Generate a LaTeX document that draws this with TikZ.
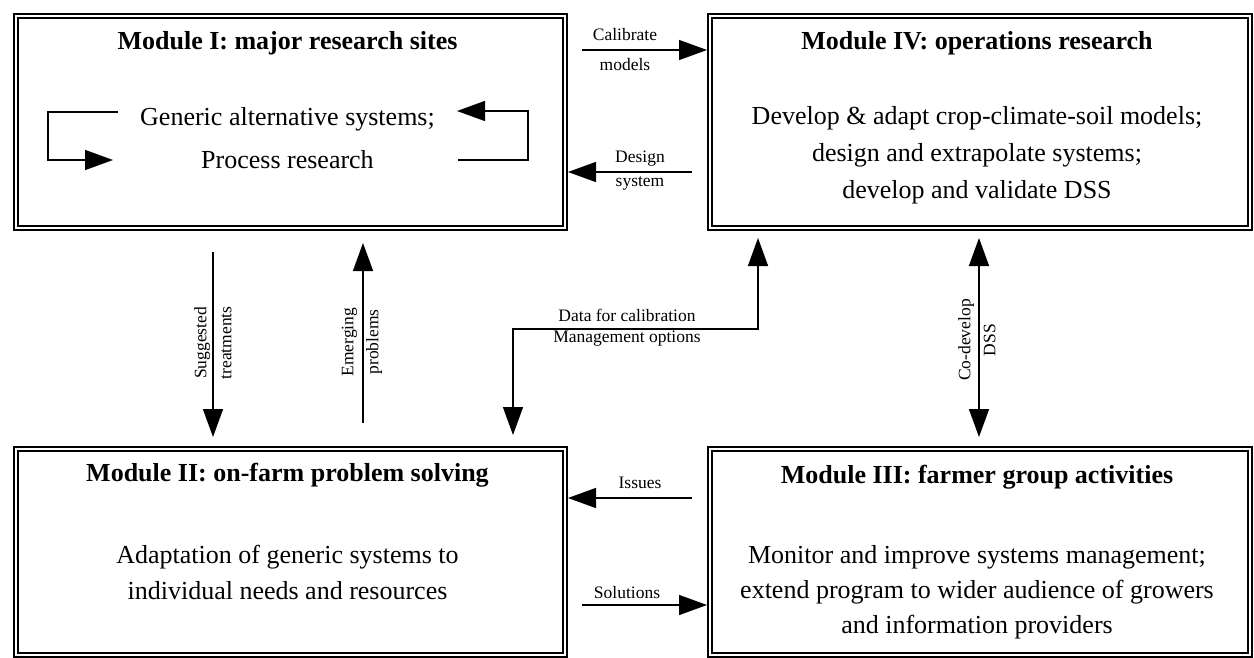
\documentclass[tikz,border=0pt]{standalone}
\usepackage{fontspec}
\setmainfont{Liberation Serif}
\usetikzlibrary{arrows.meta}
\begin{document}
\begin{tikzpicture}[x=1pt,y=-1pt,
  modbox/.style={draw, double, line width=2pt, double distance=2pt, inner sep=0pt, outer sep=3pt, anchor=north west},
  ttl/.style={font=\fontsize{26}{30}\selectfont\bfseries, inner sep=0pt},
  body/.style={font=\fontsize{26}{#1}\selectfont, align=center, inner sep=0pt},
  lbl/.style={font=\fontsize{17.5}{24}\selectfont, inner sep=0pt},
  rlbl/.style={font=\fontsize{17.5}{25}\selectfont, align=center, rotate=90, inner sep=0pt},
  conn/.style={line width=1.5pt},
  tip/.tip={Triangle[length=28pt,width=20pt]},
  ar/.style={conn, -tip},
  arr/.style={conn, tip-tip}]
\useasboundingbox (0,0) rectangle (1254,658);
% boxes
\node[modbox, minimum width=549, minimum height=212] (m1) at (13,13) {};
\node[modbox, minimum width=540, minimum height=212] (m4) at (707,13) {};
\node[modbox, minimum width=549, minimum height=206] (m2) at (13,446) {};
\node[modbox, minimum width=540, minimum height=206] (m3) at (707,446) {};
% titles
\node[ttl] (t1) at (287.5,43) {Module I: major research sites};
\node[ttl] (t4) at (977,43) {Module IV: operations research};
\node[ttl] (t2) at (287.5,475) {Module II: on-farm problem solving};
\node[ttl] (t3) at (977,477) {Module III: farmer group activities};
% bodies
\node[body=43] (b1) at (287.5,138) {Generic alternative systems;\\Process research};
\node[body=37] (b4) at (977,155) {Develop \& adapt crop-climate-soil models;\\design and extrapolate systems;\\develop and validate DSS};
\node[body=36] (b2) at (287.5,572) {Adaptation of generic systems to\\individual needs and resources};
\node[body=35] (b3) at (977,592) {Monitor and improve systems management;\\extend program to wider audience of growers\\and information providers};
% loops inside module I
\coordinate (la) at (118,112);
\coordinate (lb) at (48,112);
\coordinate (lc) at (48,160);
\coordinate (ld) at (113,160);
\draw[ar] (la) -- (lb) -- (lc) -- (ld);
\coordinate (ra) at (458,160);
\coordinate (rb) at (528,160);
\coordinate (rc) at (528,111);
\coordinate (rd) at (457,111);
\draw[ar] (ra) -- (rb) -- (rc) -- (rd);
% horizontal connectors
\coordinate (cal) at (582,50);
\draw[ar] (cal) -- (cal -| m4.west);
\node[lbl] (lcal1) at (625,35) {Calibrate};
\node[lbl] (lcal2) at (625,65) {models};
\coordinate (des) at (692,172);
\draw[ar] (des) -- (des -| m1.east);
\node[lbl] (ldes1) at (640,159) {Design};
\node[lbl] (ldes2) at (640,183) {system};
\coordinate (iss) at (692,498);
\draw[ar] (iss) -- (iss -| m2.east);
\node[lbl] (liss) at (640,483) {Issues};
\coordinate (sol) at (582,605);
\draw[ar] (sol) -- (sol -| m3.west);
\node[lbl] (lsol) at (627,593) {Solutions};
% vertical connectors
\coordinate (sug1) at (213,252);
\coordinate (sug2) at (213,437);
\draw[ar] (sug1) -- (sug2);
\node[rlbl] (lsug) at (213,343) {Suggested\\treatments};
\coordinate (em1) at (363,423);
\coordinate (em2) at (363,243);
\draw[ar] (em1) -- (em2);
\node[rlbl] (lem) at (362,342) {Emerging\\problems};
\coordinate (d1) at (513,435);
\coordinate (d2) at (513,329);
\coordinate (d3) at (758,329);
\coordinate (d4) at (758,238);
\draw[arr] (d1) -- (d2) -- (d3) -- (d4);
\node[lbl] (ld1) at (627,315) {Data for calibration};
\node[lbl] (ld2) at (627,339) {Management options};
\coordinate (co1) at (979,238);
\coordinate (co2) at (979,437);
\draw[arr] (co1) -- (co2);
\node[rlbl] (lco) at (977,340) {Co-develop\\DSS};
\end{tikzpicture}
\end{document}
